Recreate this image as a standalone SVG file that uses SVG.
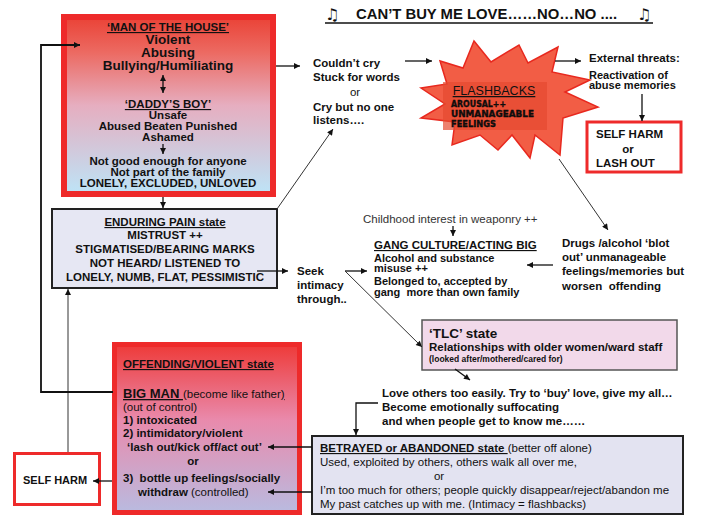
<svg xmlns="http://www.w3.org/2000/svg" width="713" height="528" viewBox="0 0 713 528">
<defs>
  <linearGradient id="g1" x1="0" y1="0" x2="0" y2="1">
    <stop offset="0" stop-color="#ea4236"/>
    <stop offset="0.2" stop-color="#ec6a62"/>
    <stop offset="0.5" stop-color="#e6aec0"/>
    <stop offset="1" stop-color="#bde4f7"/>
  </linearGradient>
  <linearGradient id="g2" x1="0" y1="0" x2="0" y2="1">
    <stop offset="0" stop-color="#ee3a38"/>
    <stop offset="0.45" stop-color="#e98aac"/>
    <stop offset="1" stop-color="#b9bbe0"/>
  </linearGradient>
  <marker id="ah" viewBox="0 0 10 10" refX="10" refY="5" markerWidth="7" markerHeight="6" markerUnits="userSpaceOnUse" orient="auto-start-reverse">
    <path d="M0,0 L10,5 L0,10 z" fill="#111"/>
  </marker>
</defs>
<style>
  text { font-family: "Liberation Sans", Arial, sans-serif; fill: #111; font-size: 11.5px; white-space: pre; }
  .b { font-weight: bold; }
  .c { text-anchor: middle; }
  .u { text-decoration: underline; }
  .t { font-size: 11px; }
  .redbox { fill: #ffffff; stroke: #ee2a2a; stroke-width: 3; }
  .ln { fill: none; stroke: #111; stroke-width: 1.3; }
  .thin { fill: none; stroke: #333; stroke-width: 1; }
  .heavy { font-family: "DejaVu Sans", sans-serif; font-weight: 900; font-size: 9px; stroke: #000; stroke-width: 0.35; }
</style>
<rect x="0" y="0" width="713" height="528" fill="#ffffff"/>

<!-- Title -->
<g id="title">
  <text x="325" y="20" style="font-family:'DejaVu Sans',sans-serif;font-size:16px;font-weight:bold">♫</text>
  <text x="356" y="19" class="b" style="font-size:14px" textLength="261" lengthAdjust="spacingAndGlyphs">CAN’T BUY ME LOVE……NO…NO ....</text>
  <text x="637" y="20" style="font-family:'DejaVu Sans',sans-serif;font-size:16px;font-weight:bold">♫</text>
  <line x1="325" y1="23" x2="653" y2="23" stroke="#111" stroke-width="1.4"/>
</g>

<!-- Man of the house -->
<g id="man-of-the-house">
  <rect x="64" y="17" width="209" height="177" fill="url(#g1)" stroke="#ee2a2a" stroke-width="6"/>
  <text x="168" y="31" class="b c u">‘MAN OF THE HOUSE’</text>
  <text x="168" y="44" class="b c" style="font-size:13.5px">Violent</text>
  <text x="168" y="57" class="b c" style="font-size:13.5px">Abusing</text>
  <text x="168" y="70" class="b c" style="font-size:13.5px">Bullying/Humiliating</text>
  <text x="168" y="108" class="b c u">‘DADDY’S BOY’</text>
  <text x="168" y="119" class="b c">Unsafe</text>
  <text x="168" y="130" class="b c">Abused Beaten Punished</text>
  <text x="168" y="141" class="b c">Ashamed</text>
  <text x="168" y="165" class="b c">Not good enough for anyone</text>
  <text x="168" y="176" class="b c">Not part of the family</text>
  <text x="168" y="187" class="b c">LONELY, EXCLUDED, UNLOVED</text>
</g>

<!-- Enduring pain -->
<g id="enduring-pain">
  <rect x="52" y="209" width="225" height="79" fill="#e6e7f3" stroke="#222" stroke-width="2"/>
  <text x="165" y="226" class="b c u">ENDURING PAIN state</text>
  <text x="165" y="239" class="b c">MISTRUST ++</text>
  <text x="165" y="253" class="b c">STIGMATISED/BEARING MARKS</text>
  <text x="165" y="267" class="b c">NOT HEARD/ LISTENED TO</text>
  <text x="165" y="281" class="b c">LONELY, NUMB, FLAT, PESSIMISTIC</text>
</g>

<!-- Couldn't cry -->
<g id="couldnt-cry">
  <text x="313" y="67" class="b">Couldn’t cry</text>
  <text x="313" y="81" class="b">Stuck for words</text>
  <text x="355" y="96" class="c">or</text>
  <text x="313" y="111" class="b">Cry but no one</text>
  <text x="313" y="124" class="b">listens….</text>
</g>

<!-- Flashbacks -->
<g id="flashbacks">
  <polygon points="421,88 447,84 440,61 463,68 474,41 491,62 519,45 528,63 558,47 552,72 590,80 565,92 598,107 563,118 560,155 535,135 530,158 512,135 498,150 480,135 452,145 455,122 421,118 445,104" fill="#f25d45" stroke="#e8281e" stroke-width="1.5" stroke-linejoin="miter"/>
  <rect x="443" y="82" width="104" height="48" fill="#e54a30" opacity="0.7"/>
  <text x="494" y="95" class="c u" style="font-size:12.5px">FLASHBACKS</text>
  <text x="451" y="107" class="heavy" textLength="55" lengthAdjust="spacingAndGlyphs">AROUSAL++</text>
  <text x="451" y="117" class="heavy" textLength="83" lengthAdjust="spacingAndGlyphs">UNMANAGEABLE</text>
  <text x="451" y="127" class="heavy" textLength="45" lengthAdjust="spacingAndGlyphs">FEELINGS</text>
</g>

<!-- External threats -->
<g id="external-threats">
  <text x="589" y="62" class="b">External threats:</text>
  <text x="589" y="78.5" class="b t">Reactivation of</text>
  <text x="589" y="89" class="b t">abuse memories</text>
</g>

<!-- Self harm / lash out -->
<g id="self-harm-lash-out">
  <rect x="587" y="122" width="94" height="50" class="redbox"/>
  <text x="596" y="138" class="b">SELF HARM</text>
  <text x="628" y="153" class="b c">or</text>
  <text x="596" y="167" class="b">LASH OUT</text>
</g>

<!-- Childhood interest -->
<g id="childhood-interest">
  <text x="363" y="223" style="fill:#333">Childhood interest in weaponry ++</text>
</g>

<!-- Gang culture -->
<g id="gang-culture">
  <text x="374" y="249" class="b u">GANG CULTURE/ACTING BIG</text>
  <text x="374" y="261.5" class="b t">Alcohol and substance</text>
  <text x="374" y="272" class="b t">misuse ++</text>
  <text x="374" y="285" class="b t">Belonged to, accepted by</text>
  <text x="374" y="295.5" class="b t">gang  more than own family</text>
</g>

<!-- Drugs / alcohol -->
<g id="drugs-alcohol">
  <text x="562" y="247" class="b">Drugs /alcohol ‘blot</text>
  <text x="562" y="261" class="b">out’ unmanageable</text>
  <text x="562" y="275" class="b">feelings/memories but</text>
  <text x="562" y="290" class="b">worsen  offending</text>
</g>

<!-- Seek intimacy -->
<g id="seek-intimacy">
  <text x="297" y="275" class="b">Seek</text>
  <text x="297" y="289" class="b">intimacy</text>
  <text x="297" y="303" class="b">through..</text>
</g>

<!-- TLC state -->
<g id="tlc-state">
  <rect x="422" y="320" width="255" height="50" fill="#f2d9ea" stroke="#555" stroke-width="1.5"/>
  <text x="429" y="338" class="b" style="font-size:13.5px">‘TLC’ state</text>
  <text x="429" y="351" class="b">Relationships with older women/ward staff</text>
  <text x="429" y="362" class="b" style="font-size:8.5px">(looked after/mothered/cared for)</text>
</g>

<!-- Love others -->
<g id="love-others">
  <text x="382" y="397" class="b">Love others too easily. Try to ‘buy’ love, give my all…</text>
  <text x="382" y="411" class="b">Become emotionally suffocating</text>
  <text x="382" y="425" class="b">and when people get to know me……</text>
</g>

<!-- Betrayed -->
<g id="betrayed-abandoned">
  <rect x="312" y="436" width="371" height="78" fill="#e3e3f1" stroke="#222" stroke-width="2"/>
  <text x="320" y="452"><tspan class="b u">BETRAYED or ABANDONED state </tspan><tspan>(better off alone)</tspan></text>
  <text x="320" y="466">Used, exploited by others, others walk all over me,</text>
  <text x="439" y="480" class="c">or</text>
  <text x="320" y="494">I’m too much for others; people quickly disappear/reject/abandon me</text>
  <text x="320" y="508">My past catches up with me. (Intimacy = flashbacks)</text>
</g>

<!-- Offending / violent -->
<g id="offending-violent">
  <rect x="114.5" y="344.5" width="185" height="168" fill="url(#g2)" stroke="#ee2a2a" stroke-width="5"/>
  <text x="123" y="368" class="b u">OFFENDING/VIOLENT state</text>
  <text x="123" y="398"><tspan class="b u" style="font-size:13px">BIG MAN </tspan><tspan>(become like father</tspan><tspan class="u">)</tspan></text>
  <text x="123" y="411">(out of control)</text>
  <text x="123" y="424" class="b">1) intoxicated</text>
  <text x="123" y="437" class="b">2) intimidatory/violent</text>
  <text x="127" y="451" class="b">‘lash out/kick off/act out’</text>
  <text x="193" y="465" class="b c">or</text>
  <text x="123" y="482" class="b">3)  bottle up feelings/socially</text>
  <text x="138" y="496"><tspan class="b">withdraw </tspan><tspan>(controlled)</tspan></text>
</g>

<!-- Self harm (left) -->
<g id="self-harm">
  <rect x="14.5" y="453.5" width="85" height="51" class="redbox"/>
  <text x="23" y="484" class="b" style="font-size:11px">SELF HARM</text>
</g>

<!-- Connectors -->
<g id="connectors">
  <line x1="163" y1="75" x2="163" y2="93" class="ln" marker-start="url(#ah)" marker-end="url(#ah)"/>
  <line x1="163" y1="144" x2="163" y2="154" class="ln" marker-end="url(#ah)"/>
  <line x1="163" y1="197" x2="163" y2="208" class="ln" marker-end="url(#ah)"/>
  <line x1="276" y1="66" x2="300" y2="66" class="ln" marker-end="url(#ah)"/>
  <line x1="405" y1="61" x2="432" y2="61" class="ln" marker-end="url(#ah)"/>
  <line x1="555" y1="61" x2="581" y2="61" class="ln" marker-end="url(#ah)"/>
  <line x1="642" y1="94" x2="642" y2="121" class="ln" marker-end="url(#ah)"/>
  <line x1="277" y1="209" x2="333" y2="129" class="thin" marker-end="url(#ah)"/>
  <line x1="559" y1="159" x2="608" y2="230" class="thin" marker-end="url(#ah)"/>
  <line x1="453" y1="226" x2="453" y2="236" class="ln" marker-end="url(#ah)"/>
  <line x1="553" y1="265" x2="527" y2="265" class="ln" marker-end="url(#ah)"/>
  <line x1="257" y1="271" x2="288" y2="271" class="ln" marker-end="url(#ah)"/>
  <line x1="345" y1="271" x2="367" y2="271" class="ln" marker-end="url(#ah)"/>
  <line x1="345" y1="271" x2="422" y2="347" class="thin" marker-end="url(#ah)"/>
  <line x1="455" y1="369" x2="470" y2="380" class="ln" marker-end="url(#ah)"/>
  <polyline points="378,403 356,403 356,435" class="ln" marker-end="url(#ah)"/>
  <line x1="312" y1="447" x2="268" y2="447" class="ln" marker-end="url(#ah)"/>
  <line x1="312" y1="492" x2="268" y2="492" class="ln" marker-end="url(#ah)"/>
  <line x1="112" y1="481" x2="93" y2="481" class="ln" marker-end="url(#ah)"/>
  <line x1="68" y1="452" x2="68" y2="289" class="thin" marker-end="url(#ah)"/>
  <polyline points="113,392 41,392 41,45 80,45" fill="none" stroke="#111" stroke-width="1.8" marker-end="url(#ah)"/>
</g>
</svg>
